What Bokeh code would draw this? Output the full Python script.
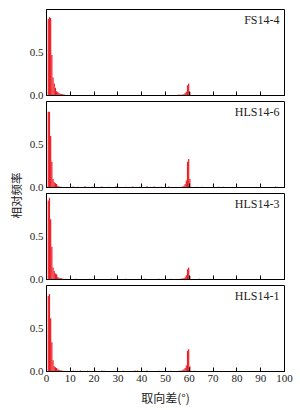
import math
from bokeh.plotting import figure
from bokeh.layouts import column, row
from bokeh.models import Range1d, FixedTicker, Label, NumeralTickFormatter
from bokeh.embed import file_html
from bokeh.resources import INLINE

# ---------------- data ----------------
sample_names = ["FS14-4", "HLS14-6", "HLS14-3", "HLS14-1"]
bin_width = 0.5
x_ticks = [0, 10, 20, 30, 40, 50, 60, 70, 80, 90, 100]
y_ticks = [0, 0.5]
x_label = "取向差(°)"
y_label = "相对频率"

# left edges of the low-angle bins (degrees)
low_bins = [0.5, 1.0, 1.5, 2.0, 2.5, 3.0, 3.5, 4.0, 4.5, 5.0,
            5.5, 6.0, 6.5, 7.0, 7.5, 8.0, 8.5, 9.0, 9.5]
# left edges of the bins around 60 degrees
high_bins = [54.0, 54.5, 55.0, 55.5, 56.0, 56.5, 57.0, 57.5,
             58.0, 58.5, 59.0, 59.5, 60.0, 60.5]

fs14_4_low = [0.89, 0.91, 0.90, 0.47, 0.21, 0.14, 0.09, 0.05, 0.04, 0.03,
              0.02, 0.018, 0.015, 0.013, 0.01, 0.006, 0.004, 0.003, 0.002]
fs14_4_high = [0.006, 0.006, 0.008, 0.008, 0.01, 0.01, 0.012, 0.015,
               0.03, 0.045, 0.12, 0.14, 0.04, 0.005]
fs14_4_scatter_x = [11, 15, 22, 30, 38, 45, 50, 52]
fs14_4_scatter_y = [0.004, 0.003, 0.003, 0.003, 0.003, 0.004, 0.004, 0.005]

hls14_6_low = [0.88, 0.88, 0.60, 0.30, 0.10, 0.06, 0.05, 0.04, 0.02, 0.012,
               0.01, 0.008, 0.006, 0.005, 0.005, 0.004, 0.004, 0.003, 0.003]
hls14_6_high = [0.004, 0.004, 0.005, 0.005, 0.006, 0.008, 0.012, 0.02,
                0.04, 0.08, 0.30, 0.33, 0.10, 0.01]
hls14_6_scatter_x = [11, 13, 16, 19, 23, 26, 29, 33, 36, 39, 42, 45, 48, 51,
                     63, 65, 72, 74, 96]
hls14_6_scatter_y = [0.012, 0.01, 0.014, 0.01, 0.012, 0.01, 0.014, 0.01, 0.012,
                     0.01, 0.014, 0.012, 0.01, 0.012, 0.01, 0.008, 0.01, 0.008, 0.012]

hls14_3_low = [0.92, 0.95, 0.70, 0.38, 0.14, 0.10, 0.07, 0.06, 0.03, 0.02,
               0.018, 0.015, 0.01, 0.008, 0.006, 0.005, 0.004, 0.003, 0.002]
hls14_3_high = [0.004, 0.005, 0.006, 0.006, 0.008, 0.01, 0.012, 0.015,
                0.025, 0.05, 0.12, 0.14, 0.04, 0.005]
hls14_3_scatter_x = [12, 18, 27, 33, 41, 47, 52, 64]
hls14_3_scatter_y = [0.008, 0.01, 0.008, 0.01, 0.008, 0.01, 0.01, 0.008]

hls14_1_low = [0.88, 0.90, 0.62, 0.34, 0.13, 0.06, 0.05, 0.04, 0.025, 0.02,
               0.015, 0.012, 0.01, 0.008, 0.006, 0.006, 0.005, 0.004, 0.004]
hls14_1_high = [0.004, 0.005, 0.006, 0.008, 0.01, 0.012, 0.015, 0.025,
                0.04, 0.07, 0.24, 0.26, 0.06, 0.008]
hls14_1_scatter_x = [11, 12, 14, 17, 20, 23, 24, 32, 37, 38, 42, 47, 52, 62]
hls14_1_scatter_y = [0.012, 0.01, 0.012, 0.01, 0.014, 0.012, 0.01, 0.01, 0.012,
                     0.012, 0.012, 0.01, 0.01, 0.008]

lows = [fs14_4_low, hls14_6_low, hls14_3_low, hls14_1_low]
highs = [fs14_4_high, hls14_6_high, hls14_3_high, hls14_1_high]
scat_x = [fs14_4_scatter_x, hls14_6_scatter_x, hls14_3_scatter_x, hls14_1_scatter_x]
scat_y = [fs14_4_scatter_y, hls14_6_scatter_y, hls14_3_scatter_y, hls14_1_scatter_y]

# ---------------- style ----------------
RED = "#ec1c24"
SERIF = "Liberation Serif"
CJK = "Noto Sans CJK SC"
TEXT = "#222222"
FRAME_H = 86
LAB_W = 26


def make_panel(i):
    first = i == 0
    last = i == 3
    top = 9 if first else 1
    bottom = 38 if last else 5
    p = figure(width=274, height=top + FRAME_H + bottom,
               x_range=Range1d(0, 100), y_range=Range1d(0, 1.0),
               output_backend="svg", toolbar_location=None,
               min_border_left=18, min_border_right=16, min_border_top=top,
               min_border_bottom=bottom)
    p.grid.visible = False
    p.outline_line_color = "black"
    p.outline_line_width = 1
    p.outline_line_alpha = 1.0

    lefts = low_bins + high_bins + scat_x[i]
    tops = lows[i] + highs[i] + scat_y[i]
    rights = [l + bin_width for l in lefts]
    p.quad(left=lefts, right=rights, bottom=0, top=tops,
           fill_color=RED, line_color=None)

    xa = p.xaxis[0]
    xa.ticker = FixedTicker(ticks=x_ticks)
    xa.major_tick_in = 4
    xa.major_tick_out = 0
    xa.minor_tick_line_color = None
    xa.axis_line_color = "black"
    xa.major_tick_line_color = "black"
    if last:
        xa.major_label_text_font = SERIF
        xa.major_label_text_font_size = "11px"
        xa.major_label_text_color = TEXT
        xa.major_label_standoff = 3
        xa.axis_label = x_label
        xa.axis_label_text_font = CJK
        xa.axis_label_text_font_style = "normal"
        xa.axis_label_text_font_size = "12px"
        xa.axis_label_text_color = TEXT
        xa.axis_label_standoff = 4
    else:
        xa.major_label_text_font_size = "1px"
        xa.major_label_text_color = None
        xa.major_label_text_alpha = 0
        xa.major_label_standoff = 0

    ya = p.yaxis[0]
    ya.ticker = FixedTicker(ticks=y_ticks)
    ya.formatter = NumeralTickFormatter(format="0.0")
    ya.major_tick_in = 0
    ya.major_tick_out = 0
    ya.minor_tick_line_color = None
    ya.axis_line_color = "black"
    ya.major_label_text_font = SERIF
    ya.major_label_text_font_size = "11px"
    ya.major_label_text_color = TEXT
    ya.major_label_standoff = 3

    p.add_layout(Label(x=97.9, y=0.955, text=sample_names[i],
                       text_align="right", text_baseline="top",
                       text_font=SERIF, text_font_size="12px",
                       text_color=TEXT))
    return p


panels = [make_panel(i) for i in range(4)]

total_h = sum(p.height for p in panels)
lab = figure(width=LAB_W, height=total_h, x_range=Range1d(0, LAB_W),
             y_range=Range1d(0, total_h), output_backend="svg",
             toolbar_location=None, x_axis_type=None, y_axis_type=None,
             min_border=0, outline_line_color=None)
lab.grid.visible = False
lab.add_layout(Label(x=15, y=total_h - 195, text=y_label, angle=math.pi / 2,
                     text_align="center", text_baseline="middle",
                     text_font=CJK, text_font_size="11.5px", text_color=TEXT))

layout = row(lab, column(*panels))

open("out.html", "w").write(file_html(layout, INLINE))
